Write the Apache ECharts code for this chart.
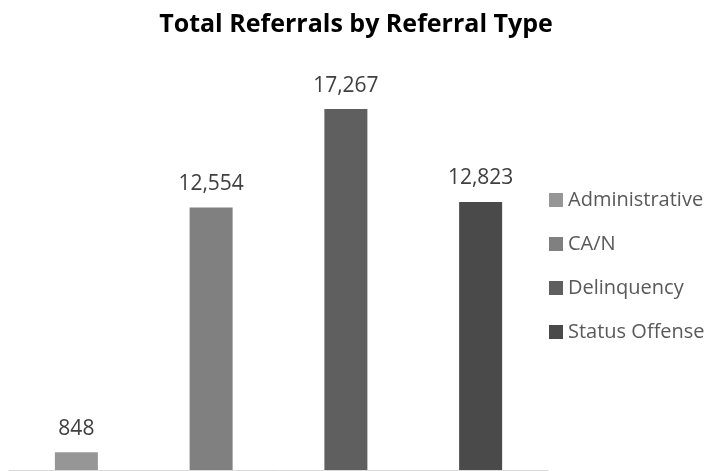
<!DOCTYPE html>
<html>
<head>
<meta charset="utf-8">
<script src="https://cdn.jsdelivr.net/npm/echarts@6/dist/echarts.min.js"></script>
<style>
  html, body { margin: 0; padding: 0; background: #fff; }
  #chart { width: 712px; height: 471px; }
</style>
</head>
<body>
<div id="chart"></div>
<script>
// referral types, one series each so the legend lists them
var types = ['Administrative', 'CA/N', 'Delinquency', 'Status Offense'];
var totals = [848, 12554, 17267, 12823];
var colors = ['#969696', '#808080', '#5f5f5f', '#4a4a4a'];

var FONT = '"Open Sans", sans-serif';

var series = [];
for (var i = 0; i < types.length; i++) {
  var d = [];
  for (var j = 0; j < types.length; j++) {
    d.push(i == j ? totals[i] : '-');
  }
  series.push({
    name: types[i],
    type: 'bar',
    data: d,
    barWidth: 43,
    barGap: '-100%',
    itemStyle: { color: colors[i] },
    label: {
      show: true,
      position: 'top',
      distance: 13,
      color: '#404040',
      fontFamily: FONT,
      fontSize: 21,
      formatter: function (p) {
        return p.value.toLocaleString('en-US');
      }
    }
  });
}

var myChart = echarts.init(document.getElementById('chart'));
myChart.setOption({
  animation: false,
  title: {
    text: 'Total Referrals by Referral Type',
    left: 351,
    textAlign: 'center',
    top: 7,
    textStyle: { fontFamily: FONT, fontWeight: 'bold', fontSize: 25, color: '#000' }
  },
  legend: {
    orient: 'vertical',
    left: 549,
    top: 190,
    padding: 0,
    itemWidth: 14,
    itemHeight: 14,
    itemGap: 24,
    icon: 'rect',
    textStyle: { fontFamily: FONT, fontSize: 20, color: '#595959' },
    data: types
  },
  grid: { left: 9, right: 164, top: 52, bottom: 1 },
  xAxis: {
    type: 'category',
    data: types,
    axisLine: { lineStyle: { color: '#d9d9d9', width: 1 } },
    axisTick: { show: false },
    axisLabel: { show: false }
  },
  yAxis: {
    type: 'value',
    min: 0,
    max: 20000,
    show: false
  },
  series: series
});
</script>
</body>
</html>
